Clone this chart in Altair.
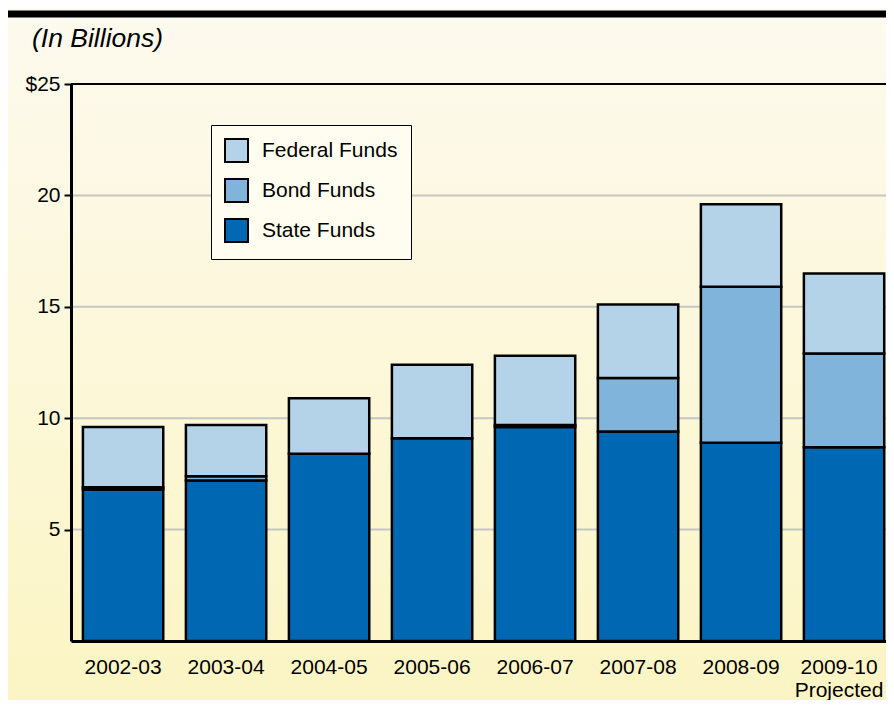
import altair as alt
import pandas as pd

years = ["2002-03", "2003-04", "2004-05", "2005-06", "2006-07", "2007-08", "2008-09", "2009-10"]
state = [6.8, 7.2, 8.4, 9.1, 9.6, 9.4, 8.9, 8.7]
bond = [0.1, 0.2, 0.0, 0.0, 0.1, 2.4, 7.0, 4.2]
federal = [2.7, 2.3, 2.5, 3.3, 3.1, 3.3, 3.7, 3.6]
series = ["Federal Funds", "Bond Funds", "State Funds"]
colors = ["#B4D3E9", "#80B4DB", "#0068B3"]
y_ticks = [5, 10, 15, 20, 25]
grid_vals = [5, 10, 15, 20]
title_text = "(In Billions)"

rows = []
for i, yr in enumerate(years):
    for name, vals, o in (("State Funds", state, 0), ("Bond Funds", bond, 1), ("Federal Funds", federal, 2)):
        if vals[i] > 0:
            rows.append({"year": yr, "series": name, "value": vals[i], "ord": o})
df = pd.DataFrame(rows)

FONT = "Liberation Sans"
W, H = 815, 557

yscale = alt.Scale(domain=[0, 25], nice=False)
yaxis = alt.Axis(
    title=None, values=y_ticks, grid=False, tickSize=7, tickWidth=2, tickColor="black",
    domainColor="black", domainWidth=3, labelFontSize=21, labelColor="black", labelFont=FONT,
    labelPadding=4,
    labelExpr="datum.value == 25 ? '$25' : datum.label", zindex=1,
)

bg = alt.Chart(pd.DataFrame({"a": [0]})).mark_rect(
    fill=alt.LinearGradient(
        gradient="linear",
        stops=[alt.GradientStop(color="#FDFAEF", offset=0), alt.GradientStop(color="#FBF5C3", offset=1)],
        x1=0, x2=0, y1=0, y2=1,
    )
).encode(x=alt.value(-70), x2=alt.value(W + 30), y=alt.value(-80), y2=alt.value(H + 70))

grid = alt.Chart(pd.DataFrame({"v": grid_vals})).mark_rule(color="#C6C6C6", strokeWidth=2).encode(
    y=alt.Y("v:Q", scale=yscale, axis=yaxis)
)

toprule = alt.Chart(pd.DataFrame({"a": [0]})).mark_rule(color="black", strokeWidth=2).encode(
    y=alt.datum(25), x=alt.value(0), x2=alt.value(W + 30)
)

bars = alt.Chart(df).mark_bar(stroke="black", strokeWidth=2.5).encode(
    x=alt.X(
        "year:N", sort=years,
        scale=alt.Scale(paddingInner=0.22, paddingOuter=0.0665, align=0.87),
        axis=alt.Axis(
            title=None, ticks=False, labelAngle=0, labelFontSize=21, labelColor="black", labelFont=FONT,
            labelPadding=15, domainColor="black", domainWidth=3, grid=False, zindex=1,
            labelLineHeight=23,
            labelOffset={"condition": {"test": "datum.value === '2009-10'", "value": -5}, "value": 0},
            labelExpr="datum.value == '2009-10' ? ['2009-10', 'Projected'] : datum.label",
        ),
    ),
    y=alt.Y("value:Q", stack="zero", scale=yscale, axis=yaxis),
    color=alt.Color(
        "series:N",
        scale=alt.Scale(domain=series, range=colors),
        legend=alt.Legend(
            title=None, orient="none", legendX=140, legendY=41, symbolType="square", symbolSize=529,
            symbolStrokeColor="black", symbolStrokeWidth=2, symbolOpacity=1, labelFontSize=21,
            labelFont=FONT, labelColor="black", rowPadding=9, padding=13, labelOffset=13,
            fillColor="#FEFDEF", strokeColor="black",
        ),
    ),
    order=alt.Order("ord:Q", sort="ascending"),
)

title = alt.Chart(pd.DataFrame({"t": [title_text]})).mark_text(
    align="left", baseline="alphabetic", fontSize=26.5, fontStyle="italic", font=FONT, color="black"
).encode(text="t:N", x=alt.value(-39), y=alt.value(-37))

topbar = alt.Chart(pd.DataFrame({"a": [0]})).mark_rule(color="black", strokeWidth=7).encode(
    x=alt.value(-70), x2=alt.value(W + 30), y=alt.value(-70)
)

chart = alt.layer(bg, grid, toprule, bars, title, topbar).properties(
    width=W, height=H,
    padding={"left": 63, "top": 76, "right": 0, "bottom": 59},
    autosize=alt.AutoSizeParams(type="none"),
    background="#FCF8DA",
).configure_view(stroke=None).configure_legend(strokeWidth=2).configure(font=FONT)

chart.save("out.html", embed_options={"renderer": "svg", "actions": False})
